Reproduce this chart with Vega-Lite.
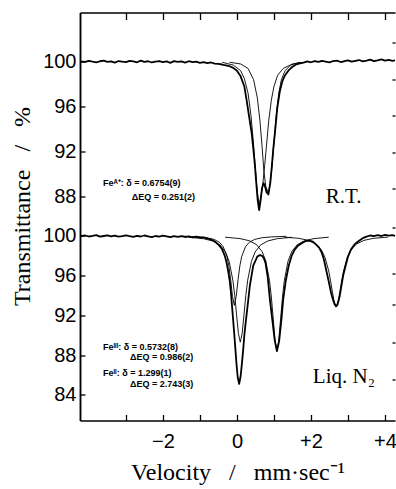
{
  "$schema": "https://vega.github.io/schema/vega-lite/v6.json",
  "autosize": {"type": "none"},
  "width": 315,
  "height": 408,
  "padding": {"left": 80, "top": 12.5, "right": 1, "bottom": 68.5},
  "background": "white",
  "config": {
    "view": {"stroke": null},
    "axis": {
      "grid": false,
      "domainColor": "black",
      "domainWidth": 1.5,
      "tickColor": "black",
      "tickWidth": 1.3,
      "labelColor": "black",
      "labelFont": "Liberation Sans",
      "labelFontSize": 20,
      "labelFlush": false,
      "labelOverlap": false,
      "titleColor": "black",
      "titleFont": "Liberation Serif",
      "titleFontWeight": "normal",
      "titleFontSize": 24
    }
  },
  "datasets": {
    "rt": [
      {"s":"d","v":-4.24,"t":100.03},{"s":"d","v":-4.1,"t":99.98},{"s":"d","v":-4.0,"t":100.08},{"s":"d","v":-3.9,"t":100.0},{"s":"d","v":-3.8,"t":99.94},{"s":"d","v":-3.7,"t":100.04},{"s":"d","v":-3.6,"t":100.1},{"s":"d","v":-3.5,"t":99.98},{"s":"d","v":-3.4,"t":100.03},{"s":"d","v":-3.3,"t":99.92},{"s":"d","v":-3.2,"t":100.06},{"s":"d","v":-3.1,"t":100.0},{"s":"d","v":-3.0,"t":99.96},{"s":"d","v":-2.9,"t":100.07},{"s":"d","v":-2.8,"t":100.02},{"s":"d","v":-2.7,"t":99.95},{"s":"d","v":-2.6,"t":100.09},{"s":"d","v":-2.5,"t":99.99},{"s":"d","v":-2.4,"t":100.04},{"s":"d","v":-2.3,"t":99.93},{"s":"d","v":-2.2,"t":100.0},{"s":"d","v":-2.1,"t":100.06},{"s":"d","v":-2.0,"t":99.97},{"s":"d","v":-1.9,"t":100.03},{"s":"d","v":-1.8,"t":99.9},{"s":"d","v":-1.7,"t":100.05},{"s":"d","v":-1.6,"t":99.98},{"s":"d","v":-1.5,"t":100.02},{"s":"d","v":-1.4,"t":99.92},{"s":"d","v":-1.3,"t":100.04},{"s":"d","v":-1.2,"t":99.96},{"s":"d","v":-1.1,"t":100.0},{"s":"d","v":-1.0,"t":99.9},{"s":"d","v":-0.9,"t":99.97},{"s":"d","v":-0.8,"t":99.88},{"s":"d","v":-0.7,"t":99.93},{"s":"d","v":-0.6,"t":99.82},{"s":"d","v":-0.5,"t":99.8},{"s":"d","v":-0.4,"t":99.75},{"s":"d","v":-0.3,"t":99.68},{"s":"d","v":-0.2,"t":99.6},{"s":"d","v":-0.1,"t":99.45},{"s":"d","v":0.0,"t":99.2},{"s":"d","v":0.1,"t":98.7},{"s":"d","v":0.2,"t":97.8},{"s":"d","v":0.26,"t":96.6},{"s":"d","v":0.33,"t":95.1},{"s":"d","v":0.4,"t":93.6},{"s":"d","v":0.45,"t":92.0},{"s":"d","v":0.49,"t":90.6},{"s":"d","v":0.53,"t":88.9},{"s":"d","v":0.56,"t":87.7},{"s":"d","v":0.6,"t":86.8},{"s":"d","v":0.64,"t":87.7},{"s":"d","v":0.68,"t":88.8},{"s":"d","v":0.72,"t":89.2},{"s":"d","v":0.76,"t":88.9},{"s":"d","v":0.8,"t":88.4},{"s":"d","v":0.85,"t":88.2},{"s":"d","v":0.9,"t":89.2},{"s":"d","v":0.94,"t":90.6},{"s":"d","v":0.98,"t":92.2},{"s":"d","v":1.03,"t":93.8},{"s":"d","v":1.09,"t":95.9},{"s":"d","v":1.16,"t":97.4},{"s":"d","v":1.23,"t":98.3},{"s":"d","v":1.3,"t":98.8},{"s":"d","v":1.4,"t":99.25},{"s":"d","v":1.5,"t":99.55},{"s":"d","v":1.6,"t":99.75},{"s":"d","v":1.7,"t":99.85},{"s":"d","v":1.8,"t":99.92},{"s":"d","v":1.9,"t":100.02},{"s":"d","v":2.0,"t":99.95},{"s":"d","v":2.1,"t":100.05},{"s":"d","v":2.2,"t":99.98},{"s":"d","v":2.3,"t":100.08},{"s":"d","v":2.4,"t":100.0},{"s":"d","v":2.5,"t":99.94},{"s":"d","v":2.6,"t":100.06},{"s":"d","v":2.7,"t":100.1},{"s":"d","v":2.8,"t":99.97},{"s":"d","v":2.9,"t":100.04},{"s":"d","v":3.0,"t":100.12},{"s":"d","v":3.1,"t":100.0},{"s":"d","v":3.2,"t":100.08},{"s":"d","v":3.3,"t":100.15},{"s":"d","v":3.4,"t":100.03},{"s":"d","v":3.5,"t":100.1},{"s":"d","v":3.6,"t":100.18},{"s":"d","v":3.7,"t":100.05},{"s":"d","v":3.8,"t":100.12},{"s":"d","v":3.9,"t":100.2},{"s":"d","v":4.0,"t":100.1},{"s":"d","v":4.1,"t":100.16},{"s":"d","v":4.2,"t":100.08},{"s":"d","v":4.27,"t":100.12},
      {"s":"A","v":-0.4,"t":99.95},{"s":"A","v":-0.1,"t":99.7},{"s":"A","v":0.1,"t":99.2},{"s":"A","v":0.2,"t":98.5},{"s":"A","v":0.3,"t":97.2},{"s":"A","v":0.38,"t":95.2},{"s":"A","v":0.45,"t":92.6},{"s":"A","v":0.5,"t":90.4},{"s":"A","v":0.55,"t":88.4},{"s":"A","v":0.6,"t":87.3},{"s":"A","v":0.65,"t":88.0},{"s":"A","v":0.7,"t":89.2},{"s":"A","v":0.75,"t":90.8},{"s":"A","v":0.8,"t":92.6},{"s":"A","v":0.86,"t":94.8},{"s":"A","v":0.93,"t":96.6},{"s":"A","v":1.0,"t":97.8},{"s":"A","v":1.1,"t":98.8},{"s":"A","v":1.25,"t":99.4},{"s":"A","v":1.5,"t":99.8},{"s":"A","v":1.8,"t":99.95},
      {"s":"B","v":-0.2,"t":99.95},{"s":"B","v":0.1,"t":99.8},{"s":"B","v":0.3,"t":99.4},{"s":"B","v":0.45,"t":98.4},{"s":"B","v":0.55,"t":96.8},{"s":"B","v":0.62,"t":94.8},{"s":"B","v":0.68,"t":92.4},{"s":"B","v":0.73,"t":90.2},{"s":"B","v":0.78,"t":88.9},{"s":"B","v":0.85,"t":88.3},{"s":"B","v":0.9,"t":89.3},{"s":"B","v":0.95,"t":90.8},{"s":"B","v":1.0,"t":92.8},{"s":"B","v":1.06,"t":95.2},{"s":"B","v":1.13,"t":97.2},{"s":"B","v":1.2,"t":98.4},{"s":"B","v":1.3,"t":99.2},{"s":"B","v":1.45,"t":99.7},{"s":"B","v":1.7,"t":99.95}
    ],
    "ln": [
      {"s":"d","v":-4.24,"t":99.95},{"s":"d","v":-4.1,"t":100.02},{"s":"d","v":-4.0,"t":99.92},{"s":"d","v":-3.9,"t":99.98},{"s":"d","v":-3.8,"t":100.05},{"s":"d","v":-3.7,"t":99.9},{"s":"d","v":-3.6,"t":99.97},{"s":"d","v":-3.5,"t":100.03},{"s":"d","v":-3.4,"t":99.93},{"s":"d","v":-3.3,"t":100.0},{"s":"d","v":-3.2,"t":99.9},{"s":"d","v":-3.1,"t":99.96},{"s":"d","v":-3.0,"t":100.04},{"s":"d","v":-2.9,"t":99.95},{"s":"d","v":-2.8,"t":99.88},{"s":"d","v":-2.7,"t":99.99},{"s":"d","v":-2.6,"t":99.92},{"s":"d","v":-2.5,"t":100.02},{"s":"d","v":-2.4,"t":99.94},{"s":"d","v":-2.3,"t":99.86},{"s":"d","v":-2.2,"t":99.97},{"s":"d","v":-2.1,"t":99.9},{"s":"d","v":-2.0,"t":100.0},{"s":"d","v":-1.9,"t":99.93},{"s":"d","v":-1.8,"t":99.85},{"s":"d","v":-1.7,"t":99.95},{"s":"d","v":-1.6,"t":99.89},{"s":"d","v":-1.5,"t":99.96},{"s":"d","v":-1.4,"t":99.87},{"s":"d","v":-1.3,"t":99.93},{"s":"d","v":-1.2,"t":99.84},{"s":"d","v":-1.1,"t":99.9},{"s":"d","v":-1.0,"t":99.82},{"s":"d","v":-0.9,"t":99.83},{"s":"d","v":-0.8,"t":99.72},{"s":"d","v":-0.7,"t":99.6},{"s":"d","v":-0.6,"t":99.42},{"s":"d","v":-0.5,"t":99.1},{"s":"d","v":-0.41,"t":98.7},{"s":"d","v":-0.33,"t":98.0},{"s":"d","v":-0.28,"t":97.3},{"s":"d","v":-0.23,"t":96.3},{"s":"d","v":-0.19,"t":95.3},{"s":"d","v":-0.16,"t":94.2},{"s":"d","v":-0.13,"t":92.8},{"s":"d","v":-0.1,"t":91.4},{"s":"d","v":-0.07,"t":90.0},{"s":"d","v":-0.04,"t":88.5},{"s":"d","v":-0.01,"t":87.0},{"s":"d","v":0.02,"t":85.8},{"s":"d","v":0.06,"t":85.1},{"s":"d","v":0.1,"t":85.9},{"s":"d","v":0.13,"t":87.0},{"s":"d","v":0.17,"t":88.6},{"s":"d","v":0.2,"t":90.0},{"s":"d","v":0.24,"t":91.4},{"s":"d","v":0.28,"t":92.7},{"s":"d","v":0.35,"t":95.0},{"s":"d","v":0.44,"t":97.0},{"s":"d","v":0.55,"t":97.9},{"s":"d","v":0.62,"t":98.05},{"s":"d","v":0.67,"t":98.0},{"s":"d","v":0.72,"t":97.8},{"s":"d","v":0.77,"t":97.3},{"s":"d","v":0.83,"t":95.9},{"s":"d","v":0.89,"t":93.6},{"s":"d","v":0.96,"t":91.4},{"s":"d","v":1.02,"t":89.5},{"s":"d","v":1.08,"t":88.4},{"s":"d","v":1.14,"t":89.4},{"s":"d","v":1.2,"t":91.5},{"s":"d","v":1.25,"t":93.6},{"s":"d","v":1.32,"t":95.5},{"s":"d","v":1.4,"t":97.0},{"s":"d","v":1.48,"t":98.0},{"s":"d","v":1.56,"t":98.6},{"s":"d","v":1.65,"t":99.0},{"s":"d","v":1.75,"t":99.25},{"s":"d","v":1.85,"t":99.45},{"s":"d","v":1.95,"t":99.5},{"s":"d","v":2.05,"t":99.4},{"s":"d","v":2.14,"t":99.1},{"s":"d","v":2.22,"t":98.8},{"s":"d","v":2.29,"t":98.3},{"s":"d","v":2.35,"t":97.6},{"s":"d","v":2.42,"t":96.4},{"s":"d","v":2.48,"t":95.4},{"s":"d","v":2.54,"t":94.3},{"s":"d","v":2.6,"t":93.5},{"s":"d","v":2.64,"t":93.1},{"s":"d","v":2.68,"t":92.9},{"s":"d","v":2.72,"t":93.1},{"s":"d","v":2.77,"t":93.8},{"s":"d","v":2.82,"t":94.9},{"s":"d","v":2.87,"t":96.0},{"s":"d","v":2.93,"t":96.9},{"s":"d","v":3.0,"t":97.9},{"s":"d","v":3.08,"t":98.6},{"s":"d","v":3.18,"t":99.15},{"s":"d","v":3.3,"t":99.5},{"s":"d","v":3.4,"t":99.75},{"s":"d","v":3.5,"t":99.9},{"s":"d","v":3.6,"t":100.02},{"s":"d","v":3.7,"t":99.95},{"s":"d","v":3.8,"t":100.05},{"s":"d","v":3.9,"t":99.97},{"s":"d","v":4.0,"t":100.08},{"s":"d","v":4.1,"t":100.0},{"s":"d","v":4.2,"t":100.06},{"s":"d","v":4.27,"t":99.98},
      {"s":"F2a","v":-1.47,"t":99.94},{"s":"F2a","v":-1.07,"t":99.88},{"s":"F2a","v":-0.82,"t":99.8},{"s":"F2a","v":-0.62,"t":99.63},{"s":"F2a","v":-0.47,"t":99.33},{"s":"F2a","v":-0.37,"t":98.89},{"s":"F2a","v":-0.27,"t":97.92},{"s":"F2a","v":-0.22,"t":97.0},{"s":"F2a","v":-0.17,"t":95.6},{"s":"F2a","v":-0.12,"t":93.9},{"s":"F2a","v":-0.07,"t":93.0},{"s":"F2a","v":-0.02,"t":93.9},{"s":"F2a","v":0.03,"t":95.6},{"s":"F2a","v":0.08,"t":97.0},{"s":"F2a","v":0.13,"t":97.92},{"s":"F2a","v":0.23,"t":98.89},{"s":"F2a","v":0.33,"t":99.33},{"s":"F2a","v":0.48,"t":99.63},{"s":"F2a","v":0.68,"t":99.8},{"s":"F2a","v":0.93,"t":99.88},{"s":"F2a","v":1.33,"t":99.94},
      {"s":"F3a","v":-1.31,"t":99.84},{"s":"F3a","v":-0.91,"t":99.7},{"s":"F3a","v":-0.66,"t":99.48},{"s":"F3a","v":-0.46,"t":99.07},{"s":"F3a","v":-0.31,"t":98.36},{"s":"F3a","v":-0.21,"t":97.4},{"s":"F3a","v":-0.11,"t":95.52},{"s":"F3a","v":-0.06,"t":93.99},{"s":"F3a","v":-0.01,"t":92.05},{"s":"F3a","v":0.04,"t":90.16},{"s":"F3a","v":0.09,"t":89.3},{"s":"F3a","v":0.14,"t":90.16},{"s":"F3a","v":0.19,"t":92.05},{"s":"F3a","v":0.24,"t":93.99},{"s":"F3a","v":0.29,"t":95.52},{"s":"F3a","v":0.39,"t":97.4},{"s":"F3a","v":0.49,"t":98.36},{"s":"F3a","v":0.64,"t":99.07},{"s":"F3a","v":0.84,"t":99.48},{"s":"F3a","v":1.09,"t":99.7},{"s":"F3a","v":1.49,"t":99.84},
      {"s":"F3b","v":-0.32,"t":99.85},{"s":"F3b","v":0.08,"t":99.71},{"s":"F3b","v":0.33,"t":99.5},{"s":"F3b","v":0.53,"t":99.1},{"s":"F3b","v":0.68,"t":98.4},{"s":"F3b","v":0.78,"t":97.44},{"s":"F3b","v":0.88,"t":95.48},{"s":"F3b","v":0.93,"t":93.83},{"s":"F3b","v":0.98,"t":91.66},{"s":"F3b","v":1.03,"t":89.43},{"s":"F3b","v":1.08,"t":88.4},{"s":"F3b","v":1.13,"t":89.43},{"s":"F3b","v":1.18,"t":91.66},{"s":"F3b","v":1.23,"t":93.83},{"s":"F3b","v":1.28,"t":95.48},{"s":"F3b","v":1.38,"t":97.44},{"s":"F3b","v":1.48,"t":98.4},{"s":"F3b","v":1.63,"t":99.1},{"s":"F3b","v":1.83,"t":99.5},{"s":"F3b","v":2.08,"t":99.71},{"s":"F3b","v":2.48,"t":99.85},
      {"s":"F2b","v":1.28,"t":99.86},{"s":"F2b","v":1.68,"t":99.73},{"s":"F2b","v":1.93,"t":99.53},{"s":"F2b","v":2.13,"t":99.17},{"s":"F2b","v":2.28,"t":98.58},{"s":"F2b","v":2.38,"t":97.81},{"s":"F2b","v":2.48,"t":96.45},{"s":"F2b","v":2.53,"t":95.46},{"s":"F2b","v":2.58,"t":94.32},{"s":"F2b","v":2.63,"t":93.32},{"s":"F2b","v":2.68,"t":92.9},{"s":"F2b","v":2.73,"t":93.32},{"s":"F2b","v":2.78,"t":94.32},{"s":"F2b","v":2.83,"t":95.46},{"s":"F2b","v":2.88,"t":96.45},{"s":"F2b","v":2.98,"t":97.81},{"s":"F2b","v":3.08,"t":98.58},{"s":"F2b","v":3.23,"t":99.17},{"s":"F2b","v":3.43,"t":99.53},{"s":"F2b","v":3.68,"t":99.73},{"s":"F2b","v":4.08,"t":99.86}
    ]
  },
  "layer": [
    {
      "data": {"name": "rt"},
      "layer": [
        {
          "transform": [{"filter": "datum.s == 'd'"}],
          "mark": {"type": "line", "color": "black", "strokeWidth": 1.8, "strokeJoin": "round"},
          "encoding": {
            "x": {"field": "v", "type": "quantitative", "scale": {"domain": [-4.24, 4.27], "nice": false, "zero": false},
                  "axis": {"orient": "top", "values": [-3, -2, -1, 0, 1, 2, 3, 4], "tickSize": -7, "labels": false, "title": null}},
            "y": {"field": "t", "type": "quantitative", "scale": {"domain": [68.107, 104.373], "nice": false, "zero": false},
                  "axis": {"orient": "left", "values": [88, 92, 96, 100], "tickSize": -5, "labelPadding": 9,
                           "title": "Transmittance\u00a0\u00a0\u00a0/\u00a0\u00a0\u00a0%", "titleX": -58, "titleY": 193.5, "titleAngle": 270,
                           "titleAlign": "center", "titleBaseline": "middle"}}
          }
        },
        {
          "transform": [{"filter": "datum.s != 'd'"}],
          "mark": {"type": "line", "color": "black", "strokeWidth": 0.9},
          "encoding": {
            "x": {"field": "v", "type": "quantitative", "scale": {"domain": [-4.24, 4.27], "nice": false, "zero": false}},
            "y": {"field": "t", "type": "quantitative", "scale": {"domain": [68.107, 104.373], "nice": false, "zero": false},
                  "axis": {"orient": "right", "values": [101.69, 98.46, 95.26, 91.96, 88.77], "tickSize": -3, "labels": false, "domain": false, "title": null}},
            "detail": {"field": "s"}
          }
        },
        {
          "data": {"values": [
            {"v": -3.62, "t": 89.22, "label": "Feᴬ⁺: δ = 0.6754(9)"},
            {"v": -2.84, "t": 87.97, "label": "ΔEQ = 0.251(2)"}
          ]},
          "mark": {"type": "text", "align": "left", "baseline": "middle", "font": "Liberation Sans", "fontWeight": "bold", "fontSize": 9, "color": "black"},
          "encoding": {
            "x": {"field": "v", "type": "quantitative", "scale": {"domain": [-4.24, 4.27], "nice": false, "zero": false}},
            "y": {"field": "t", "type": "quantitative", "scale": {"domain": [68.107, 104.373], "nice": false, "zero": false}, "axis": null},
            "text": {"field": "label"}
          }
        },
        {
          "data": {"values": [{"v": 2.4, "t": 87.97, "label": "R.T."}]},
          "mark": {"type": "text", "align": "left", "baseline": "middle", "font": "Liberation Serif", "fontSize": 21, "color": "black"},
          "encoding": {
            "x": {"field": "v", "type": "quantitative", "scale": {"domain": [-4.24, 4.27], "nice": false, "zero": false}},
            "y": {"field": "t", "type": "quantitative", "scale": {"domain": [68.107, 104.373], "nice": false, "zero": false}, "axis": null},
            "text": {"field": "label"}
          }
        }
      ],
      "resolve": {"axis": {"y": "independent"}}
    },
    {
      "data": {"name": "ln"},
      "layer": [
        {
          "transform": [{"filter": "datum.s == 'd'"}],
          "mark": {"type": "line", "color": "black", "strokeWidth": 1.8, "strokeJoin": "round"},
          "encoding": {
            "x": {"field": "v", "type": "quantitative", "scale": {"domain": [-4.24, 4.27], "nice": false, "zero": false},
                  "axis": {"orient": "bottom", "values": [-3, -2, -1, 0, 1, 2, 3, 4], "tickSize": -6, "labelPadding": 17,
                           "labelExpr": "datum.value % 2 != 0 ? '' : (datum.value > 0 ? '+' + datum.value : (datum.value < 0 ? '−' + (-datum.value) : '0'))",
                           "title": "Velocity\u00a0\u00a0\u00a0/\u00a0\u00a0\u00a0mm·sec⁻¹", "titlePadding": 9}},
            "y": {"field": "t", "type": "quantitative", "scale": {"domain": [81.427, 122.432], "nice": false, "zero": false},
                  "axis": {"orient": "left", "values": [84, 88, 92, 96, 100], "tickSize": -5, "labelPadding": 9, "title": null}}
          }
        },
        {
          "transform": [{"filter": "datum.s != 'd'"}],
          "mark": {"type": "line", "color": "black", "strokeWidth": 0.9},
          "encoding": {
            "x": {"field": "v", "type": "quantitative", "scale": {"domain": [-4.24, 4.27], "nice": false, "zero": false}},
            "y": {"field": "t", "type": "quantitative", "scale": {"domain": [81.427, 122.432], "nice": false, "zero": false},
                  "axis": {"orient": "right", "values": [100.87, 96.25, 93.13, 89.31, 85.5], "tickSize": -3, "labels": false, "domain": false, "title": null}},
            "detail": {"field": "s"}
          }
        },
        {
          "data": {"values": [
            {"v": -3.62, "t": 88.81, "label": "Feᴵᴵᴵ: δ = 0.5732(8)"},
            {"v": -2.89, "t": 87.81, "label": "ΔEQ = 0.986(2)"},
            {"v": -3.62, "t": 86.2, "label": "Feᴵᴵ: δ = 1.299(1)"},
            {"v": -2.89, "t": 85.1, "label": "ΔEQ = 2.743(3)"}
          ]},
          "mark": {"type": "text", "align": "left", "baseline": "middle", "font": "Liberation Sans", "fontWeight": "bold", "fontSize": 9, "color": "black"},
          "encoding": {
            "x": {"field": "v", "type": "quantitative", "scale": {"domain": [-4.24, 4.27], "nice": false, "zero": false}},
            "y": {"field": "t", "type": "quantitative", "scale": {"domain": [81.427, 122.432], "nice": false, "zero": false}, "axis": null},
            "text": {"field": "label"}
          }
        },
        {
          "data": {"values": [{"v": 2.05, "t": 85.8, "label": "Liq. N₂"}]},
          "mark": {"type": "text", "align": "left", "baseline": "middle", "font": "Liberation Serif", "fontSize": 21, "color": "black"},
          "encoding": {
            "x": {"field": "v", "type": "quantitative", "scale": {"domain": [-4.24, 4.27], "nice": false, "zero": false}},
            "y": {"field": "t", "type": "quantitative", "scale": {"domain": [81.427, 122.432], "nice": false, "zero": false}, "axis": null},
            "text": {"field": "label"}
          }
        }
      ],
      "resolve": {"axis": {"y": "independent"}}
    }
  ],
  "resolve": {"scale": {"y": "independent"}, "axis": {"x": "independent", "y": "independent"}}
}
